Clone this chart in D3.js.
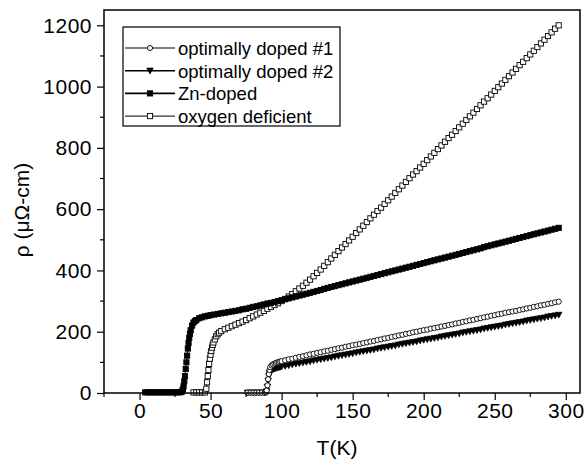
<!DOCTYPE html>
<html><head><meta charset="utf-8">
<script src="https://cdn.jsdelivr.net/npm/d3@7"></script>
<style>body{margin:0;background:#fff}svg{display:block}text{font-family:"Liberation Sans",Arial,sans-serif;fill:#000}</style>
</head><body><svg id="c" width="587" height="464"></svg>
<script>
// ---- data ----
const xTicks = [0, 50, 100, 150, 200, 250, 300];
const yTicks = [0, 200, 400, 600, 800, 1000, 1200];
const seriesNames = ["optimally doped #1", "optimally doped #2", "Zn-doped", "oxygen deficient"];

// normal-state temperature grid shared by all samples (K)
const tGrid = [100,102.5,105,107.5,110,112.5,115,117.5,120,122.5,125,127.5,130,132.5,135,137.5,140,142.5,145,147.5,150,152.5,155,157.5,160,162.5,165,167.5,170,172.5,175,177.5,180,182.5,185,187.5,190,192.5,195,197.5,200,202.5,205,207.5,210,212.5,215,217.5,220,222.5,225,227.5,230,232.5,235,237.5,240,242.5,245,247.5,250,252.5,255,257.5,260,262.5,265,267.5,270,272.5,275,277.5,280,282.5,285,287.5,290,292.5,295];

// optimally doped #1
const od1LoT = [76,78,80,82,84,86,88,89,89.5,90,90.5,91,91.5,92,93,94,95,96,97,98,99];
const od1LoR = [1,1,1,1,1,1,1,2,8,25,45,62,75,84,90,93,96,98,100,101,103];
const od1HiR = [104,107,110,112,115,118,120,123,126,128,131,133,136,138,141,143,146,148,151,153,156,158,160,163,165,168,170,173,175,178,180,183,185,188,190,193,195,198,200,203,205,207,210,212,214,217,219,222,224,227,229,232,234,237,239,242,244,247,249,252,254,257,259,262,264,266,268,271,273,276,278,281,283,286,288,291,293,296,298];

// optimally doped #2
const od2LoT = [76,78,80,82,84,86,88,89,89.5,90,90.5,91,91.5,92,93,94,95,96,97,98,99];
const od2LoR = [1,1,1,1,1,1,1,2,5,20,40,55,65,70,75,77,79,81,82,83,85];
const od2HiR = [86,88,90,93,95,97,99,101,103,106,108,110,112,114,116,119,121,123,125,127,129,132,134,136,138,140,142,145,147,149,151,153,155,158,160,162,164,166,168,171,173,175,177,179,181,184,186,188,190,192,194,197,199,201,203,205,207,210,212,214,216,218,220,223,225,227,229,231,233,236,238,240,242,244,246,249,251,253,255];

// Zn-doped
const znLoT = [4,6,8,10,12,14,16,18,20,22,24,26,28,29,30,30.5,31,31.5,32,32.5,33,33.5,34,34.5,35,35.5,36,37,38,39,40,42,44,46,48,50,52.5,55,57.5,60,62.5,65,67.5,70,72.5,75,77.5,80,82.5,85,87.5,90,92.5,95,97.5];
const znLoR = [2,2,2,2,2,2,2,2,2,2,2,2,2,3,5,12,22,38,55,78,100,122,145,163,180,193,205,220,230,235,238,244,247,250,252,254,256,258,260,262,264,266,268,270,273,275,278,281,283,286,289,292,294,297,300];
const znHiR = [303,306,309,312,315,318,321,324,327,330,333,336,340,343,346,349,352,355,358,361,364,367,370,373,376,379,382,385,388,391,394,397,400,403,406,409,412,415,418,421,424,427,430,433,436,439,442,445,448,451,454,457,460,463,466,469,472,476,479,482,485,488,491,494,497,500,503,506,509,512,515,518,521,524,527,530,533,536,539];

// oxygen deficient
const oxLoT = [38,40,42,44,46,47,47.5,48,48.5,49,49.5,50,50.5,51,51.5,52,53,54,55,56,57.5,60,62.5,65,67.5,70,72.5,75,77.5,80,82.5,85,87.5,90,92.5,95,97.5];
const oxLoR = [2,2,2,2,2,14,35,55,75,95,112,125,137,148,157,165,175,185,192,197,202,208,213,218,223,228,233,238,244,250,256,262,268,275,281,287,293];
const oxHiR = [300,307,315,323,332,341,350,360,370,381,392,403,415,427,439,451,463,475,486,498,510,522,534,546,558,570,582,594,605,617,629,641,653,665,677,689,701,713,724,736,748,760,772,784,796,808,820,832,843,855,867,879,891,903,915,927,939,951,962,974,986,998,1010,1022,1034,1046,1058,1070,1081,1093,1105,1117,1129,1141,1153,1165,1177,1189,1200];

// ---- chart ----
const svg = d3.select("#c");
svg.append("rect").attr("width",587).attr("height",464).attr("fill","#fff");
const L=104, R=580, T=10, B=393;
const x = d3.scaleLinear().domain([-25,310]).range([L,R]);
const y = d3.scaleLinear().domain([0,1250]).range([B,T]);

const mk = (loT, loR, hiR) => loT.map((t,i)=>[t,loR[i]]).concat(tGrid.map((t,i)=>[t,hiR[i]]));
const series = [
  {name:seriesNames[0], pts:mk(od1LoT,od1LoR,od1HiR), sym:"circle", fill:"#fff"},
  {name:seriesNames[1], pts:mk(od2LoT,od2LoR,od2HiR), sym:"tri", fill:"#000"},
  {name:seriesNames[2], pts:mk(znLoT,znLoR,znHiR), sym:"square", fill:"#000"},
  {name:seriesNames[3], pts:mk(oxLoT,oxLoR,oxHiR), sym:"square", fill:"#fff"}
];

function marker(g, sym, fill, cx, cy){
  if(sym==="circle") g.append("circle").attr("cx",cx).attr("cy",cy).attr("r",2.6).attr("fill",fill).attr("stroke","#000").attr("stroke-width",0.9);
  else if(sym==="square") g.append("rect").attr("x",cx-2.6).attr("y",cy-2.6).attr("width",5.2).attr("height",5.2).attr("fill",fill).attr("stroke","#000").attr("stroke-width",0.9);
  else g.append("path").attr("d",`M${cx-3.2},${cy-2.6}L${cx+3.2},${cy-2.6}L${cx},${cy+3.2}Z`).attr("fill",fill).attr("stroke","#000").attr("stroke-width",0.8);
}

const plot = svg.append("g");
const line = d3.line().x(d=>x(d[0])).y(d=>y(d[1]));
series.slice().reverse().forEach(s=>{
  plot.append("path").attr("d",line(s.pts)).attr("fill","none").attr("stroke","#000").attr("stroke-width",1);
  const g = plot.append("g");
  s.pts.forEach(p=>marker(g, s.sym, s.fill, x(p[0]), y(p[1])));
});

// frame
svg.append("rect").attr("x",L).attr("y",T).attr("width",R-L).attr("height",B-T).attr("fill","none").attr("stroke","#000").attr("stroke-width",1.5);

// axes
const xAxis = d3.axisBottom(x).tickValues(xTicks).tickSize(7).tickPadding(3).tickFormat(d3.format("d"));
const gx = svg.append("g").attr("transform",`translate(0,${B})`).call(xAxis);
gx.select(".domain").remove();
gx.selectAll("line").attr("stroke-width",1.2);
gx.selectAll("text").attr("font-size",21).attr("font-family","Liberation Sans, Arial, sans-serif").attr("letter-spacing","0.5px");
const xMinor = d3.range(-25,311,50);
svg.append("g").selectAll("line").data(xMinor).join("line").attr("x1",d=>x(d)).attr("x2",d=>x(d)).attr("y1",B).attr("y2",B+4).attr("stroke","#000").attr("stroke-width",1.2);

const yAxis = d3.axisLeft(y).tickValues(yTicks).tickSize(7).tickPadding(5).tickFormat(d3.format("d"));
const gy = svg.append("g").attr("transform",`translate(${L},0)`).call(yAxis);
gy.select(".domain").remove();
gy.selectAll("line").attr("stroke-width",1.2);
gy.selectAll("text").attr("font-size",21).attr("font-family","Liberation Sans, Arial, sans-serif").attr("letter-spacing","0.5px");
const yMinor = d3.range(100,1250,200);
svg.append("g").selectAll("line").data(yMinor).join("line").attr("x1",L-4).attr("x2",L).attr("y1",d=>y(d)).attr("y2",d=>y(d)).attr("stroke","#000").attr("stroke-width",1.2);

svg.append("text").attr("x",337).attr("y",455).attr("text-anchor","middle").attr("font-size",21).text("T(K)");
svg.append("text").attr("transform","translate(29,210) rotate(-90)").attr("text-anchor","middle").attr("font-size",21).text("ρ (μΩ-cm)");

// legend
const lg = svg.append("g");
lg.append("rect").attr("x",123).attr("y",27).attr("width",217).attr("height",99).attr("fill","#fff").attr("stroke","#000").attr("stroke-width",1.2);
series.forEach((s,i)=>{
  const yy = 48 + i*22.7;
  lg.append("line").attr("x1",125).attr("x2",175).attr("y1",yy).attr("y2",yy).attr("stroke","#000").attr("stroke-width",s.fill==="#000"?1.6:1);
  marker(lg, s.sym, s.fill, 150, yy);
  lg.append("text").attr("x",178).attr("y",yy+7).attr("font-size",18.5).text(s.name);
});
</script></body></html>
